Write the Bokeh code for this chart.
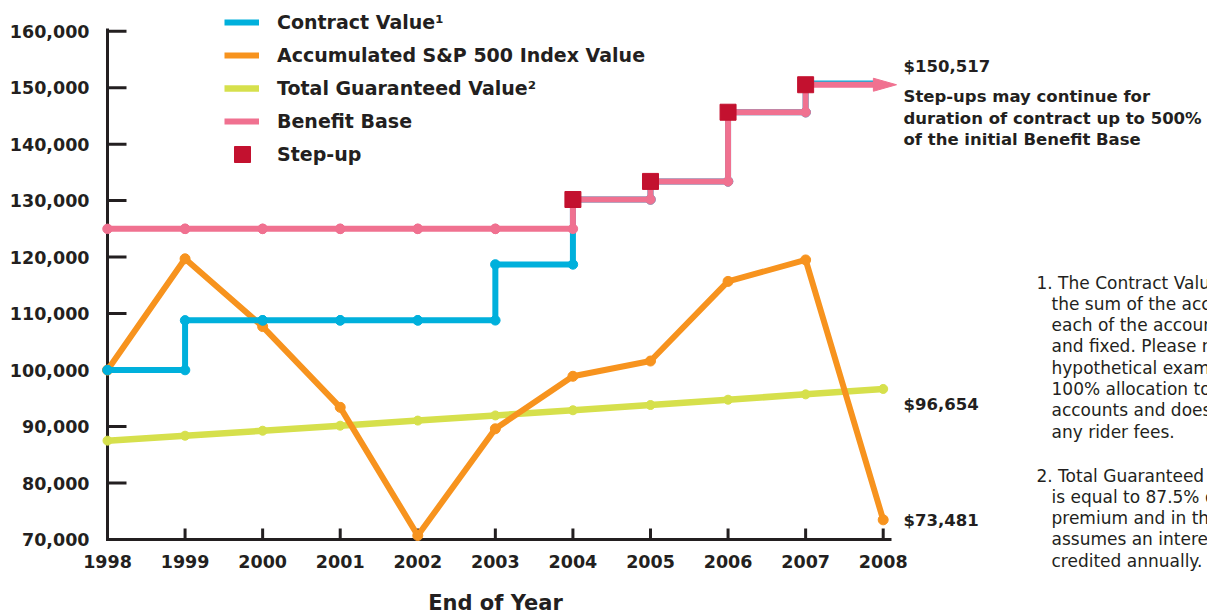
from bokeh.plotting import figure
from bokeh.models import Range1d, Label, Legend, LegendItem
from bokeh.core.properties import value
from bokeh.embed import file_html
from bokeh.resources import INLINE

# ---------------- data ----------------
years = [1998, 1999, 2000, 2001, 2002, 2003, 2004, 2005, 2006, 2007, 2008]
sp500_value = [100000, 119700, 107700, 93400, 70700, 89600, 98900, 101600, 115700, 119500, 73481]
guaranteed_value = [87500, 88375, 89259, 90151, 91053, 91963, 92883, 93812, 94750, 95697, 96654]

step_years = [1998, 1999, 2000, 2001, 2002, 2003, 2004, 2005, 2006, 2007]
contract_value = [100000, 108800, 108800, 108800, 108800, 118700, 130200, 133400, 145650, 150517]
benefit_base = [125000, 125000, 125000, 125000, 125000, 125000, 130200, 133400, 145650, 150517]

stepup_years = [2004, 2005, 2006, 2007]
stepup_values = [130200, 133400, 145650, 150517]

y_ticks = [70000, 80000, 90000, 100000, 110000, 120000, 130000, 140000, 150000, 160000]
y_tick_labels = ["70,000", "80,000", "90,000", "100,000", "110,000", "120,000",
                 "130,000", "140,000", "150,000", "160,000"]
x_tick_labels = ["1998", "1999", "2000", "2001", "2002", "2003", "2004", "2005", "2006", "2007", "2008"]
x_title = "End of Year"

label_final = "$150,517"
label_guaranteed = "$96,654"
label_sp500 = "$73,481"
note_lines = ["Step-ups may continue for",
              "duration of contract up to 500%",
              "of the initial Benefit Base"]
footnote1 = ["1. The Contract Value is",
             "the sum of the account values in",
             "each of the accounts, variable",
             "and fixed. Please note this",
             "hypothetical example assumes",
             "100% allocation to variable",
             "accounts and does not reflect",
             "any rider fees."]
footnote2 = ["2. Total Guaranteed Value",
             "is equal to 87.5% of the initial",
             "premium and in this example",
             "assumes an interest rate of 1%",
             "credited annually."]

# ---------------- style / layout ----------------
BLUE = "#00b0dc"
ORANGE = "#f7931e"
GREEN = "#d6e04c"
PINK = "#f07190"
CRIMSON = "#c3112f"
DARK = "#231f20"
FONT = "DejaVu Sans"

CANVAS_W, CANVAS_H = 1207, 611
AXIS_X_PX = 107            # y-axis position (px)
AXIS_Y_PX = 539            # x-axis position (px)
PX_PER_YEAR = 77.57
PX_PER_10K = 56.48
X0, Y0 = 1998, 70000       # data values at the axes


def wx(px):
    return X0 + (px - AXIS_X_PX) / PX_PER_YEAR


def wy(py):
    return Y0 + (AXIS_Y_PX - py) / PX_PER_10K * 10000


def dy(px):
    return px / PX_PER_10K * 10000


X_AXIS_END = wx(891)
Y_AXIS_END = wy(28)


def step_path(xs, ys):
    px, py = [xs[0]], [ys[0]]
    for i in range(1, len(xs)):
        px += [xs[i], xs[i]]
        py += [ys[i - 1], ys[i]]
    return px, py


p = figure(frame_width=CANVAS_W, frame_height=CANVAS_H,
           x_range=Range1d(wx(0), wx(CANVAS_W)), y_range=Range1d(wy(CANVAS_H), wy(0)),
           output_backend="svg", toolbar_location=None,
           x_axis_location=None, y_axis_location=None,
           min_border_left=0, min_border_right=0, min_border_top=0, min_border_bottom=0)
p.outline_line_color = None
p.xgrid.visible = False
p.ygrid.visible = False
p.background_fill_color = "white"
p.border_fill_color = "white"

n_x, n_y = len(years), len(y_ticks)
# ---- axes: lines, inward ticks, labels ----
p.segment(x0=[wx(AXIS_X_PX - 1.5)], y0=[Y0], x1=[X_AXIS_END], y1=[Y0],
          line_color=DARK, line_width=3)
p.segment(x0=[X0], y0=[wy(AXIS_Y_PX + 1.5)], x1=[X0], y1=[Y_AXIS_END],
          line_color=DARK, line_width=3)
p.segment(x0=years, y0=[Y0] * n_x, x1=years, y1=[wy(AXIS_Y_PX - 11)] * n_x,
          line_color=DARK, line_width=3)
p.segment(x0=[X0] * n_y, y0=y_ticks, x1=[wx(AXIS_X_PX + 19)] * n_y, y1=y_ticks,
          line_color=DARK, line_width=3)
p.text(x=years, y=[wy(561)] * n_x, text=x_tick_labels,
       text_font=value(FONT), text_font_style="bold", text_font_size="17.5px",
       text_color=DARK, text_align="center", text_baseline="middle")
p.text(x=[wx(89)] * n_y, y=y_ticks, text=y_tick_labels,
       text_font=value(FONT), text_font_style="bold", text_font_size="17.5px",
       text_color=DARK, text_align="right", text_baseline="middle")
p.add_layout(Label(x=wx(495), y=wy(602), text=x_title, text_font=FONT,
                   text_font_style="bold", text_font_size="21px", text_color=DARK,
                   text_align="center", text_baseline="middle"))

# ---- series ----
g_line = p.line(years, guaranteed_value, line_color=GREEN, line_width=6.5)
p.scatter(years, guaranteed_value, size=9, color=GREEN)

o_line = p.line(years, sp500_value, line_color=ORANGE, line_width=6)
p.scatter(years, sp500_value, size=10, color=ORANGE)

# the continuing value: contract value and benefit base run on towards the arrow
arrow_tail_x = wx(875)
arrow_tip_x = wx(896)
last_val = stepup_values[-1]

cx, cy = step_path(step_years, contract_value)
c_line = p.line(cx, cy, line_color=BLUE, line_width=6)
p.line([cx[-1], arrow_tail_x], [cy[-1] + dy(1.2), cy[-1] + dy(1.2)], line_color=BLUE, line_width=6)
p.scatter(cx, cy, size=9.5, color=BLUE)

bx, by = step_path(step_years, benefit_base)
b_line = p.line(bx, by, line_color=PINK, line_width=6)
p.scatter(bx, by, size=9.5, color=PINK)

# arrow: shaft + slender head
p.line([stepup_years[-1], arrow_tail_x], [last_val, last_val], line_color=PINK, line_width=6)
p.patch([arrow_tail_x - (arrow_tip_x - arrow_tail_x) * 0.1, arrow_tip_x,
         arrow_tail_x - (arrow_tip_x - arrow_tail_x) * 0.1],
        [last_val + dy(6.5), last_val, last_val - dy(6.5)],
        fill_color=PINK, line_color=PINK, line_width=1)

sq = p.scatter(stepup_years, stepup_values, marker="square", size=16, color=CRIMSON)

# ---- legend (location measured from frame bottom-left) ----
legend = Legend(items=[LegendItem(label="Contract Value\u00b9", renderers=[c_line]),
                       LegendItem(label="Accumulated S&P 500 Index Value", renderers=[o_line]),
                       LegendItem(label="Total Guaranteed Value\u00b2", renderers=[g_line]),
                       LegendItem(label="Benefit Base", renderers=[b_line])],
                location=(224, CANVAS_H - 132), orientation="vertical",
                glyph_width=35, glyph_height=20, label_height=20, label_standoff=18,
                spacing=11, padding=0, margin=0,
                border_line_color=None, background_fill_alpha=0,
                label_text_font=FONT, label_text_font_style="bold",
                label_text_font_size="19px", label_text_color=DARK)
p.add_layout(legend)
legend2 = Legend(items=[LegendItem(label="Step-up", renderers=[sq])],
                 location=(222, CANVAS_H - 174), orientation="vertical",
                 glyph_width=40, glyph_height=40, label_standoff=15,
                 padding=0, margin=0, border_line_color=None, background_fill_alpha=0,
                 label_text_font=FONT, label_text_font_style="bold",
                 label_text_font_size="19px", label_text_color=DARK)
p.add_layout(legend2)


# ---- annotations ----
def add_label(px, py, text, size, bold=True):
    p.add_layout(Label(x=wx(px), y=wy(py), text=text, text_font=FONT,
                       text_font_style="bold" if bold else "normal",
                       text_font_size=size, text_color=DARK,
                       text_baseline="middle", text_align="left"))


add_label(903, 66, label_final, "16.5px")
for i, t in enumerate(note_lines):
    add_label(903, 96 + i * 21.7, t, "16.5px")
add_label(903, 404, label_guaranteed, "16.5px")
add_label(903, 520, label_sp500, "16.5px")

for i, t in enumerate(footnote1):
    add_label(1036 if i == 0 else 1051, 282 + i * 21.3, t, "17px", bold=False)
for i, t in enumerate(footnote2):
    add_label(1036 if i == 0 else 1051, 475 + i * 21.3, t, "17px", bold=False)

open("out.html", "w").write(file_html(p, INLINE))
